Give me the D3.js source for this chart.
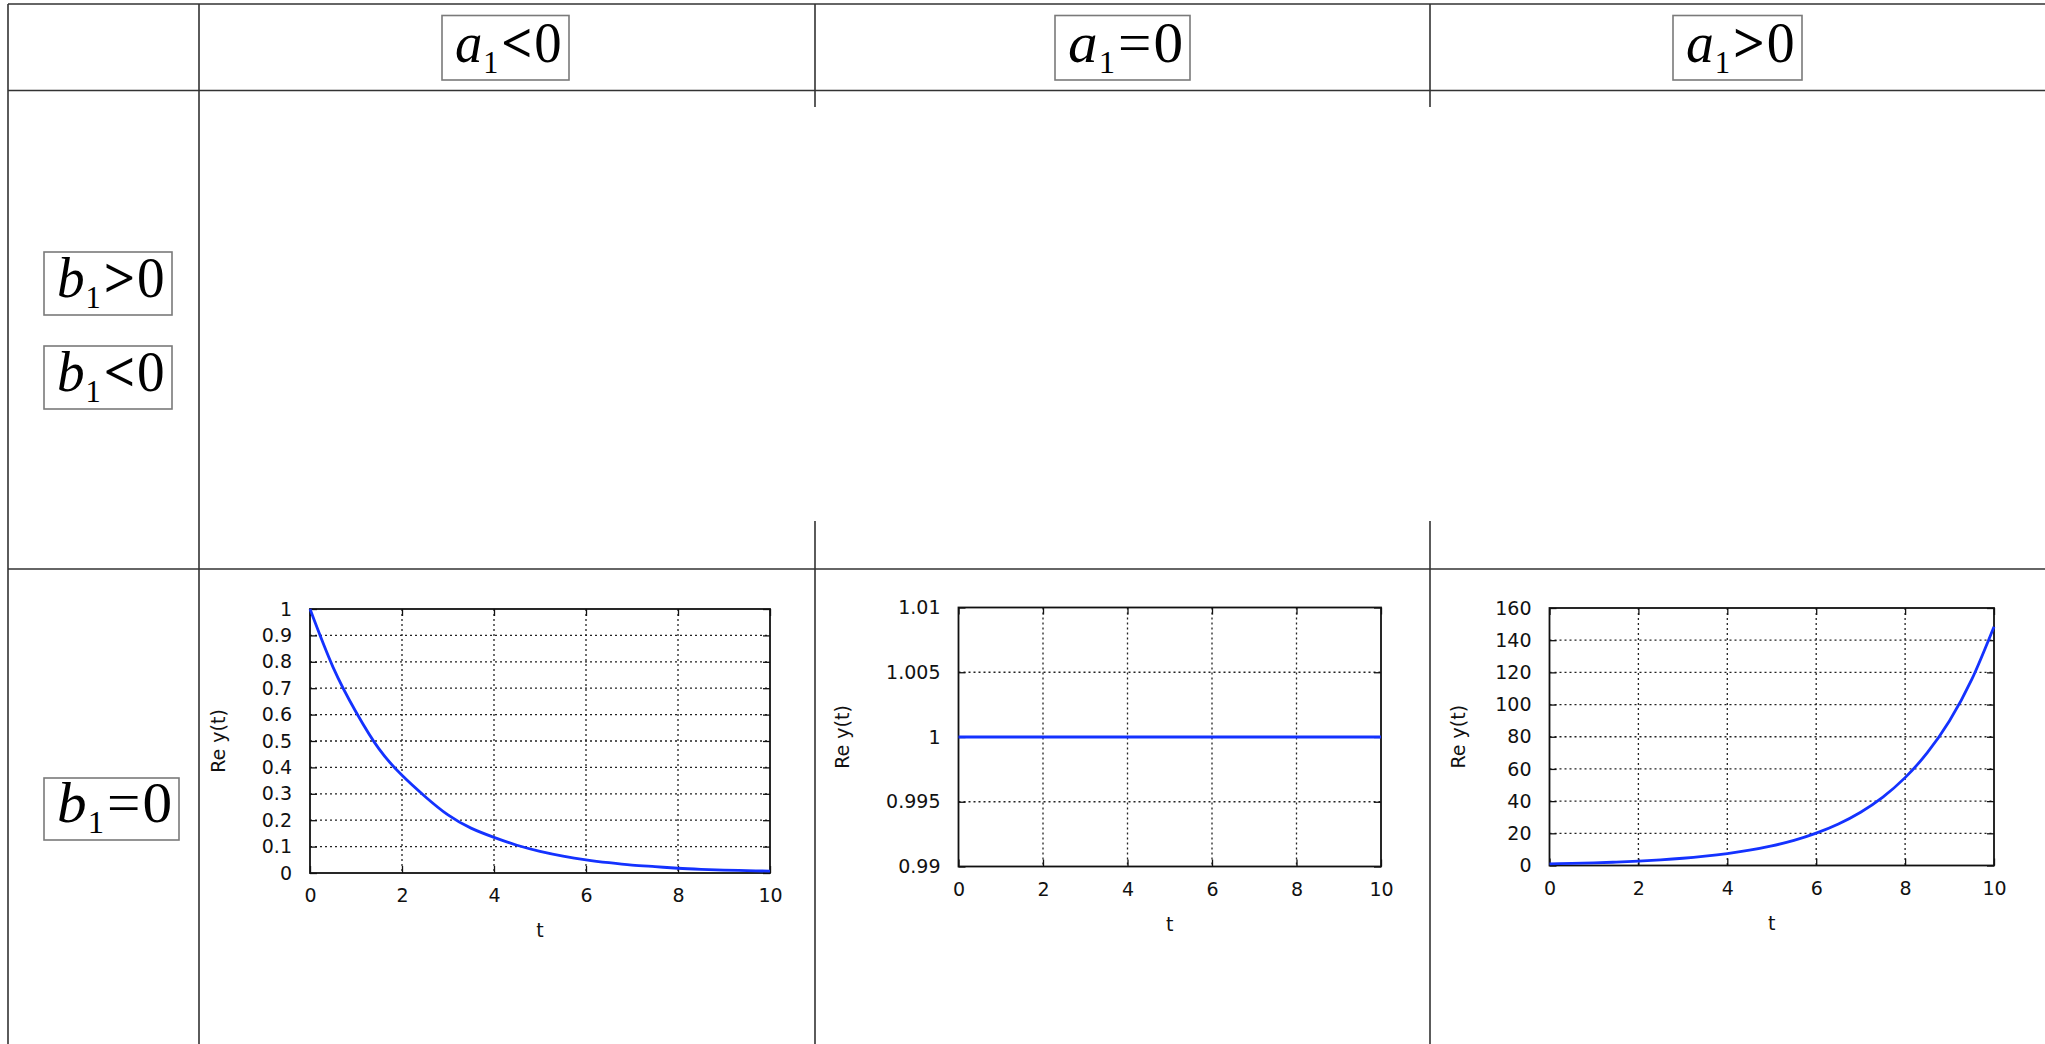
<!DOCTYPE html>
<html>
<head>
<meta charset="utf-8">
<script src="https://cdn.jsdelivr.net/npm/d3@7"></script>
<style>
  html, body { margin: 0; padding: 0; background: #fff; }
  svg { display: block; }
</style>
</head>
<body>
<svg id="chart" width="2045" height="1044"></svg>
<script>
// ---------- data ----------
const colOps = ["<", "=", ">"];           // a1 ? 0
const rowOps = [">", "<", "="];           // b1 ? 0
const tValues = [0, 0.5, 1, 1.5, 2, 2.5, 3, 3.5, 4, 4.5, 5, 5.5, 6, 6.5, 7, 7.5, 8, 8.5, 9, 9.5, 10];
const decayValues = [1, 0.78, 0.61, 0.47, 0.37, 0.29, 0.22, 0.17, 0.135, 0.105, 0.082, 0.064, 0.05, 0.039, 0.03, 0.024, 0.018, 0.014, 0.011, 0.009, 0.007];
const constValues = [1, 1, 1, 1, 1, 1, 1, 1, 1, 1, 1, 1, 1, 1, 1, 1, 1, 1, 1, 1, 1];
const growthValues = [1, 1.3, 1.6, 2.1, 2.7, 3.5, 4.5, 5.8, 7.4, 9.5, 12.2, 15.6, 20.1, 25.8, 33.1, 42.5, 54.6, 70.1, 90, 115.6, 148.4];
const xTicks = [0, 2, 4, 6, 8, 10];
const yTicksDecay = [0, 0.1, 0.2, 0.3, 0.4, 0.5, 0.6, 0.7, 0.8, 0.9, 1];
const yTicksConst = [0.99, 0.995, 1, 1.005, 1.01];
const yTicksGrowth = [0, 20, 40, 60, 80, 100, 120, 140, 160];
const xLabel = "t";
const yLabel = "Re y(t)";

// ---------- drawing ----------
const svg = d3.select("#chart");
const W = 2045, H = 1044;
const lineColor = "#333";

// table lines
const tableSegs = [
  [8, 4, W, 4], [8, 90.5, W, 90.5], [8, 569, W, 569],
  [8, 4, 8, H], [199, 4, 199, H],
  [815, 4, 815, 107], [815, 521, 815, H],
  [1430, 4, 1430, 107], [1430, 521, 1430, H]
];
svg.append("g").selectAll("line").data(tableSegs).join("line")
  .attr("x1", d => d[0]).attr("y1", d => d[1]).attr("x2", d => d[2]).attr("y2", d => d[3])
  .attr("stroke", lineColor).attr("stroke-width", 1.6);

// math labels in boxes
function mathLabel(variable, op, box, baseline) {
  const g = svg.append("g");
  g.append("rect").attr("x", box[0]).attr("y", box[2])
    .attr("width", box[1] - box[0]).attr("height", box[3] - box[2])
    .attr("fill", "none").attr("stroke", "#7a7a7a").attr("stroke-width", 1.6);
  const pad = 13;
  const t = g.append("text")
    .attr("font-family", "'Liberation Serif','Times New Roman',serif")
    .attr("font-size", 58).attr("fill", "#000");
  t.append("tspan").attr("font-style", "italic").text(variable);
  t.append("tspan").attr("font-size", 32).attr("dy", 11).attr("dx", 1).text("1");
  t.append("tspan").attr("dy", -11).attr("dx", 3).attr("font-weight", op === "=" ? "normal" : "bold").text(op);
  t.append("tspan").attr("dx", 2).text("0");
  const w = t.node().getComputedTextLength();
  const target = box[1] - box[0] - 2 * pad;
  t.attr("transform", `translate(${box[0] + pad},${baseline}) scale(${target / w},1)`);
}
const headerBoxes = [[442, 569, 15.5, 80], [1055, 1190, 15.5, 80], [1673, 1802, 15.5, 80]];
colOps.forEach((op, i) => mathLabel("a", op, headerBoxes[i], 62));
const rowBoxes = [[44, 172, 252, 315], [44, 172, 346, 409], [44, 179, 778, 840]];
const rowBase = [297, 391, 822];
rowOps.forEach((op, i) => mathLabel("b", op, rowBoxes[i], rowBase[i]));

// plots
function plot(cfg) {
  const { left, right, top, bottom, yDomain, yTicks, values } = cfg;
  const x = d3.scaleLinear().domain([0, 10]).range([left, right]);
  const y = d3.scaleLinear().domain(yDomain).range([bottom, top]);
  const g = svg.append("g");
  const font = "'DejaVu Sans', sans-serif";
  const fs = 19;

  // grid
  const gx = xTicks.filter(v => v > 0 && v < 10);
  const gy = yTicks.filter(v => v > yDomain[0] && v < yDomain[1]);
  g.append("g").selectAll("line").data(gx).join("line")
    .attr("x1", d => x(d)).attr("x2", d => x(d)).attr("y1", top).attr("y2", bottom)
    .attr("stroke", "#222").attr("stroke-width", 1.3).attr("stroke-dasharray", "2,3");
  g.append("g").selectAll("line").data(gy).join("line")
    .attr("x1", left).attr("x2", right).attr("y1", d => y(d)).attr("y2", d => y(d))
    .attr("stroke", "#222").attr("stroke-width", 1.3).attr("stroke-dasharray", "2,3");

  // axes
  const fmt = d3.format("~g");
  g.append("g").attr("transform", `translate(0,${bottom})`)
    .call(d3.axisBottom(x).tickValues(xTicks).tickSizeInner(-7).tickSizeOuter(0).tickPadding(16).tickFormat(fmt));
  const axL = g.append("g").attr("transform", `translate(${left},0)`)
    .call(d3.axisLeft(y).tickValues(yTicks).tickSizeInner(-7).tickSizeOuter(0).tickPadding(18).tickFormat(fmt));
  g.append("g").attr("transform", `translate(0,${top})`)
    .call(d3.axisTop(x).tickValues(xTicks).tickSizeInner(-7).tickSizeOuter(0).tickFormat(""));
  g.append("g").attr("transform", `translate(${right},0)`)
    .call(d3.axisRight(y).tickValues(yTicks).tickSizeInner(-7).tickSizeOuter(0).tickFormat(""));
  g.selectAll(".domain").remove();
  g.selectAll(".tick line").attr("stroke", "#111").attr("stroke-width", 1.3);
  g.selectAll(".tick text").attr("font-family", font).attr("font-size", fs).attr("fill", "#111");

  // border
  g.append("rect").attr("x", left).attr("y", top).attr("width", right - left).attr("height", bottom - top)
    .attr("fill", "none").attr("stroke", "#111").attr("stroke-width", 1.8);

  // curve
  const pts = tValues.map((t, i) => [t, values[i]]);
  g.append("path").datum(pts)
    .attr("d", d3.line().x(d => x(d[0])).y(d => y(d[1])).curve(d3.curveNatural))
    .attr("fill", "none").attr("stroke", "#1432ff").attr("stroke-width", 2.8);

  // labels
  g.append("text").attr("x", (left + right) / 2).attr("y", bottom + 64)
    .attr("text-anchor", "middle").attr("font-family", font).attr("font-size", fs).attr("fill", "#111")
    .text(xLabel);
  let maxW = 0;
  axL.selectAll(".tick text").each(function () { maxW = Math.max(maxW, this.getComputedTextLength()); });
  const lx = left - 18 - maxW - cfg.gap;
  g.append("text").attr("transform", `translate(${lx},${(top + bottom) / 2}) rotate(-90)`)
    .attr("text-anchor", "middle").attr("dy", "0.35em")
    .attr("font-family", font).attr("font-size", fs).attr("fill", "#111")
    .text(yLabel);
}

plot({ left: 310, right: 770, top: 609, bottom: 873, yDomain: [0, 1], yTicks: yTicksDecay, values: decayValues, gap: 43 });
plot({ left: 958.5, right: 1381, top: 607.5, bottom: 866.5, yDomain: [0.99, 1.01], yTicks: yTicksConst, values: constValues, gap: 44 });
plot({ left: 1549.5, right: 1994, top: 608, bottom: 865.5, yDomain: [0, 160], yTicks: yTicksGrowth, values: growthValues, gap: 37 });
</script>
</body>
</html>
